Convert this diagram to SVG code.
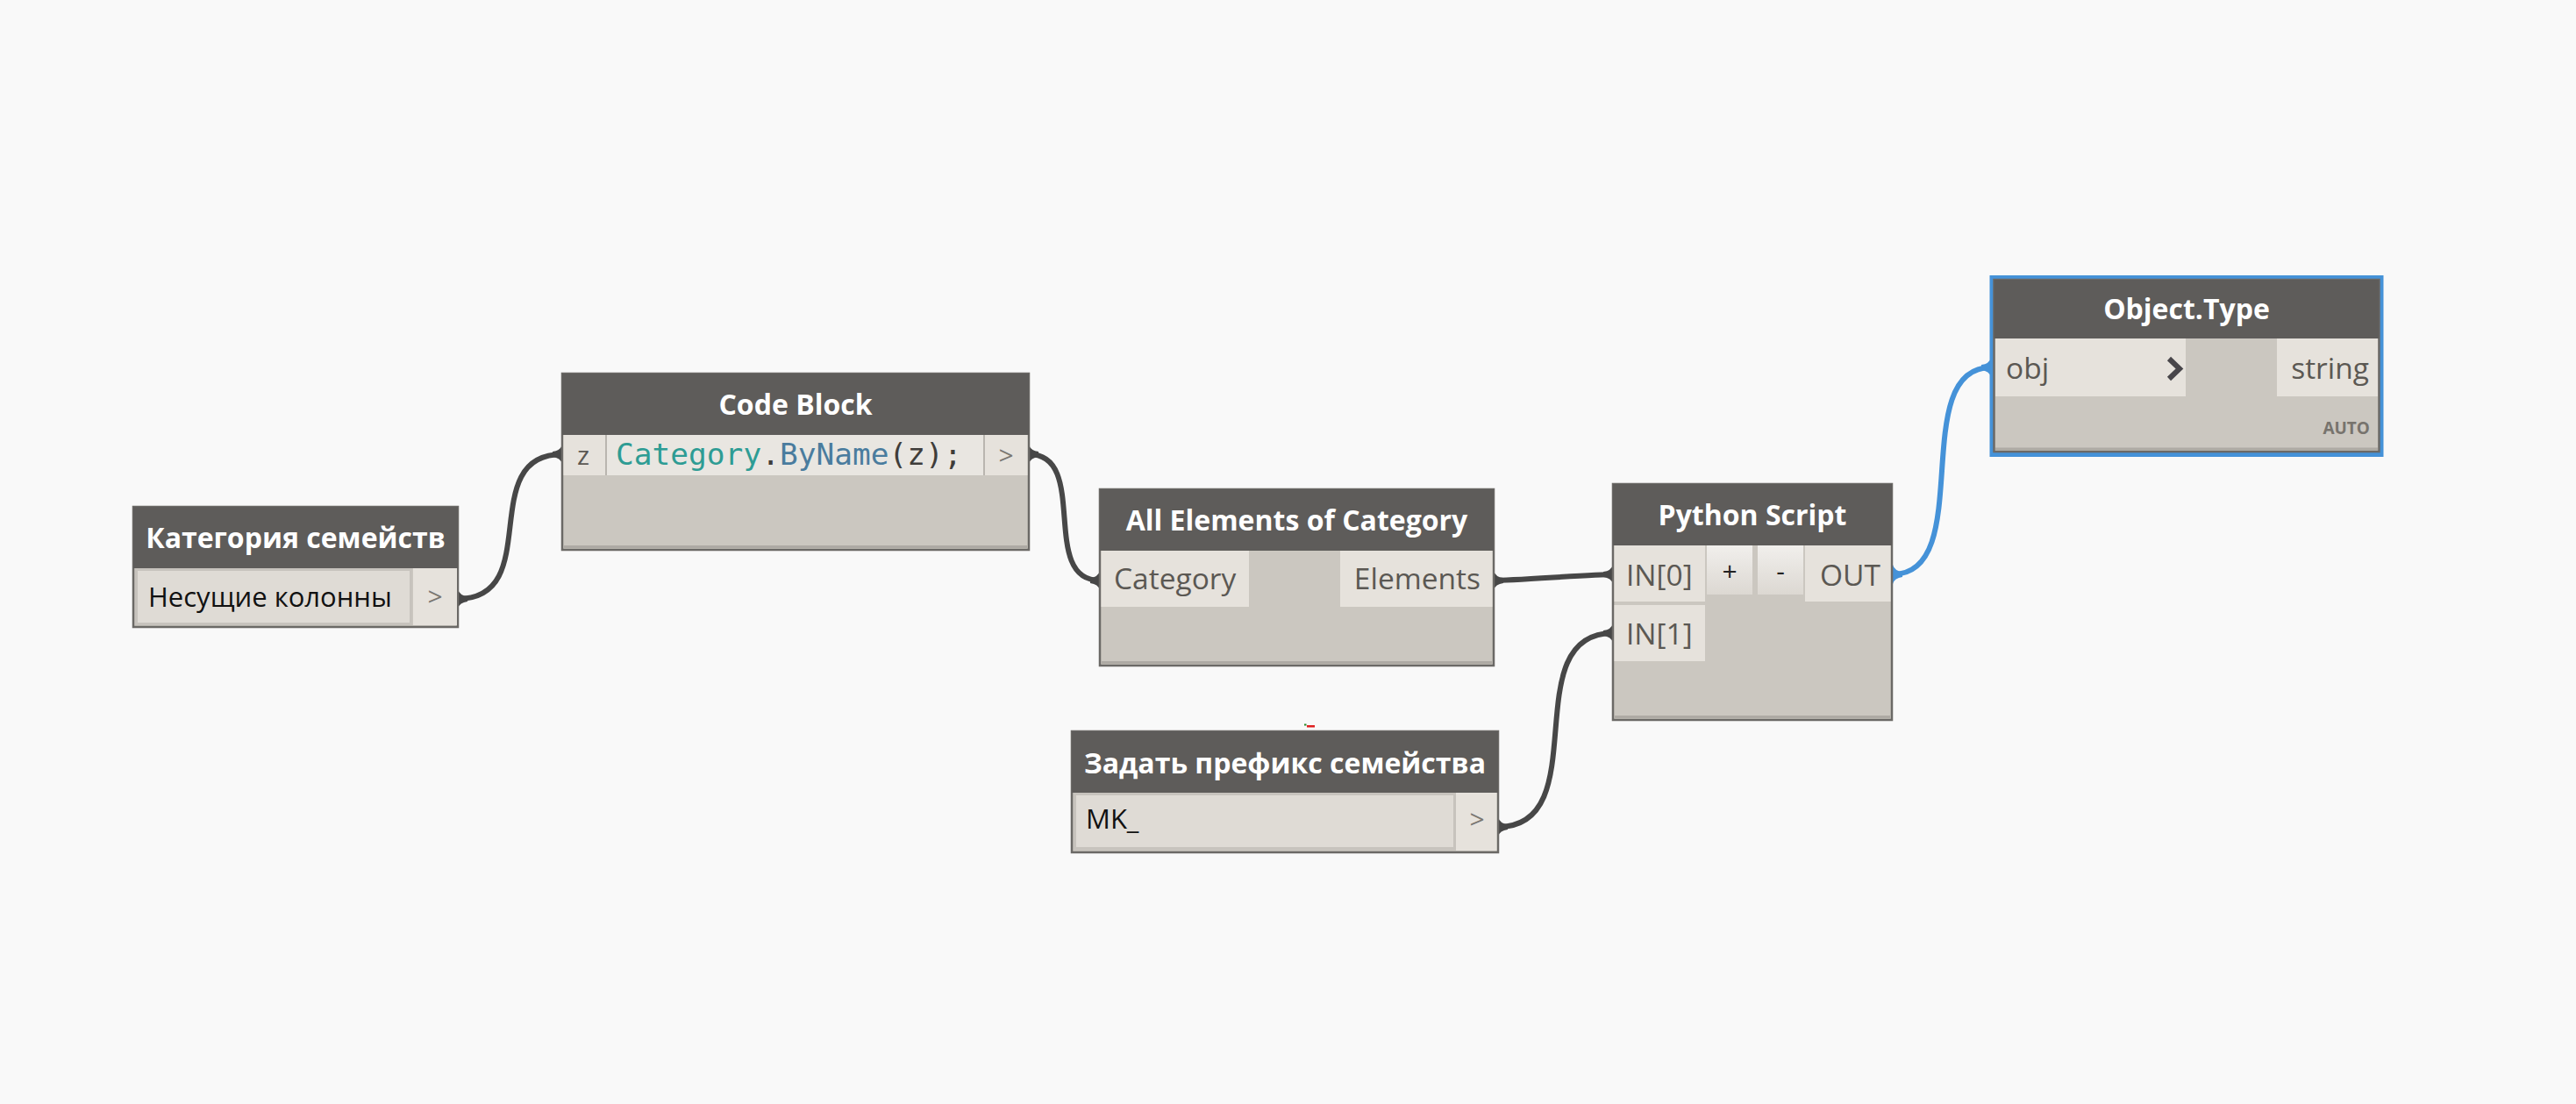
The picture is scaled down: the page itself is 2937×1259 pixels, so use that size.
<svg xmlns="http://www.w3.org/2000/svg" width="2937" height="1259" viewBox="0 0 2937 1259">
<defs>
<style>
.bg{fill:#f9f9f9}
.body{fill:#cbc7c0;stroke:#6b6966;stroke-width:2.5}
.hdr{fill:#5e5c5a}
.port{fill:#e6e2dc}
.field{fill:#dfdbd5;stroke:#c7c3bd;stroke-width:3}
.strip{stroke:#aeaaa4;stroke-width:3}
.ttl{font-family:'Open Sans','Noto Sans',sans-serif;font-weight:700;font-size:32px;fill:#ffffff;text-anchor:middle}
.lbl{font-family:'Open Sans','Noto Sans',sans-serif;font-size:33.5px;fill:#5b5853}
.val{font-family:'Open Sans','Noto Sans',sans-serif;font-size:31px;fill:#111111}
.gt{font-family:'Open Sans','Noto Sans',sans-serif;font-size:30px;fill:#7a7772;text-anchor:middle}
.code{font-family:'DejaVu Sans Mono','Liberation Mono',monospace;font-size:34.5px;fill:#3f3d3a}
.wire{fill:none;stroke:#474747;stroke-width:6;stroke-linecap:round}
.wsel{fill:none;stroke:#4592d8;stroke-width:6;stroke-linecap:round}
.nub{fill:#474747}
.nubs{fill:#4592d8}
.btn{stroke:none}
</style>
<linearGradient id="btnGrad" x1="0" y1="0" x2="0" y2="1">
<stop offset="0" stop-color="#f1efec"/>
<stop offset="1" stop-color="#dcd8d2"/>
</linearGradient>
</defs>
<rect class="bg" x="0" y="0" width="2937" height="1259"/>
<rect x="1490" y="827" width="9" height="2.5" fill="#e02020"/>
<rect x="1487" y="825.5" width="2.5" height="2" fill="#2a8a2a"/>

<g id="connectors">
<path class="wire" d="M522,683 C622,683 541,518 641,518"/>
<path class="wire" d="M1173,518 C1243,518 1184,662 1254,662"/>
<path class="wire" d="M1703,662 C1725,662 1817,655 1839,655"/>
<path class="wire" d="M1708,943 C1821,943 1726,722 1839,722"/>
<path class="wsel" d="M2158,655 C2254,655 2174,419 2270,419"/>
<path class="nub" d="M522,672 Q524,679 533,680 L533,686 Q524,687 522,694 Z"/>
<path class="nub" d="M641,507 Q639,514 630,515 L630,521 Q639,522 641,529 Z"/>
<path class="nub" d="M1173,507 Q1175,514 1184,515 L1184,521 Q1175,522 1173,529 Z"/>
<path class="nub" d="M1254,651 Q1252,658 1243,659 L1243,665 Q1252,666 1254,673 Z"/>
<path class="nub" d="M1703,651 Q1705,658 1714,659 L1714,665 Q1705,666 1703,673 Z"/>
<path class="nub" d="M1839,644 Q1837,651 1828,652 L1828,658 Q1837,659 1839,666 Z"/>
<path class="nub" d="M1708,932 Q1710,939 1719,940 L1719,946 Q1710,947 1708,954 Z"/>
<path class="nub" d="M1839,711 Q1837,718 1828,719 L1828,725 Q1837,726 1839,733 Z"/>
<path class="nubs" d="M2158,644 Q2160,651 2169,652 L2169,658 Q2160,659 2158,666 Z"/>
<path class="nubs" d="M2270,408 Q2268,415 2259,416 L2259,422 Q2268,423 2270,430 Z"/>
</g>

<g id="node-category">
<rect class="body" x="152" y="578" width="370" height="137"/>
<rect class="hdr" x="152" y="578" width="370" height="70"/>
<rect class="field" x="155.5" y="649.5" width="313" height="62"/>
<rect class="port" x="471" y="648" width="50" height="65"/>
<text class="ttl" x="337" y="625">Категория семейств</text>
<text class="val" x="169" y="692">Несущие колонны</text>
<text class="gt" x="496" y="691">&gt;</text>
</g>

<g id="node-codeblock">
<rect class="body" x="641" y="426" width="532" height="201"/>
<rect class="hdr" x="641" y="426" width="532" height="70"/>
<rect class="port" x="642.5" y="496" width="48" height="46"/>
<rect x="692" y="496" width="430" height="46" fill="#e9e6e1"/>
<rect class="port" x="1123" y="496" width="48.5" height="46"/>
<line x1="691" y1="496" x2="691" y2="542" stroke="#b9b5af" stroke-width="2"/>
<line x1="1122" y1="496" x2="1122" y2="542" stroke="#b9b5af" stroke-width="2"/>
<line class="strip" x1="643" y1="623.5" x2="1171" y2="623.5"/>
<text class="ttl" x="907" y="473">Code Block</text>
<text class="gt" x="665" y="530" style="fill:#5b5853">z</text>
<text class="code" x="702" y="530"><tspan fill="#2e9c94">Category</tspan>.<tspan fill="#4a7c9e">ByName</tspan>(z);</text>
<text class="gt" x="1147" y="530">&gt;</text>
</g>

<g id="node-allelements">
<rect class="body" x="1254" y="558" width="449" height="201"/>
<rect class="hdr" x="1254" y="558" width="449" height="70"/>
<rect class="port" x="1255.5" y="628" width="168.5" height="64"/>
<rect class="port" x="1528" y="628" width="173.5" height="64"/>
<line class="strip" x1="1256" y1="755.5" x2="1701" y2="755.5"/>
<text class="ttl" x="1478.5" y="605">All Elements of Category</text>
<text class="lbl" x="1270" y="672">Category</text>
<text class="lbl" x="1688" y="672" text-anchor="end">Elements</text>
</g>

<g id="node-python">
<rect class="body" x="1839" y="552" width="318" height="269"/>
<rect class="hdr" x="1839" y="552" width="318" height="70"/>
<rect class="port" x="1840.5" y="622" width="103.5" height="64"/>
<rect class="btn" x="1946" y="622" width="52" height="56" fill="url(#btnGrad)"/>
<rect class="btn" x="2004" y="622" width="52" height="56" fill="url(#btnGrad)"/>
<rect class="port" x="2058" y="622" width="97.5" height="64"/>
<rect class="port" x="1840.5" y="690" width="103.5" height="64"/>
<line class="strip" x1="1841" y1="817.5" x2="2155" y2="817.5"/>
<text class="ttl" x="1998" y="599">Python Script</text>
<text class="lbl" x="1854" y="668">IN[0]</text>
<text class="lbl" x="1854" y="735">IN[1]</text>
<text class="lbl" x="2144" y="668" text-anchor="end">OUT</text>
<text class="lbl" x="1972" y="662" text-anchor="middle" style="fill:#222;font-size:30px">+</text>
<text class="lbl" x="2030" y="662" text-anchor="middle" style="fill:#222;font-size:30px">-</text>
</g>

<g id="node-prefix">
<rect class="body" x="1222" y="834" width="486" height="138"/>
<rect class="hdr" x="1222" y="834" width="486" height="70"/>
<rect class="field" x="1225.5" y="905.5" width="433" height="62"/>
<rect class="port" x="1660" y="904" width="46.5" height="66"/>
<text class="ttl" x="1465" y="882">Задать префикс семейства</text>
<text class="val" x="1238" y="945">MK_</text>
<text class="gt" x="1684" y="945">&gt;</text>
</g>

<g id="node-objecttype">
<rect x="2271" y="316.5" width="444" height="202" fill="none" stroke="#4592d8" stroke-width="5"/>
<rect class="body" x="2273.5" y="319" width="439" height="196"/>
<rect class="hdr" x="2273.5" y="319" width="439" height="67"/>
<rect class="port" x="2275" y="386" width="217" height="66"/>
<rect class="port" x="2596" y="386" width="115" height="66"/>
<line class="strip" x1="2275" y1="512" x2="2711" y2="512"/>
<polyline points="2473,409 2485,420.5 2473,432" fill="none" stroke="#48464a" stroke-width="6"/>
<text class="ttl" x="2493" y="364">Object.Type</text>
<text class="lbl" x="2287" y="432">obj</text>
<text class="lbl" x="2701" y="432" text-anchor="end">string</text>
<text x="2702" y="495" text-anchor="end" font-family="'Open Sans','Noto Sans',sans-serif" font-weight="700" font-size="19" fill="#77736d">AUTO</text>
</g>
</svg>
